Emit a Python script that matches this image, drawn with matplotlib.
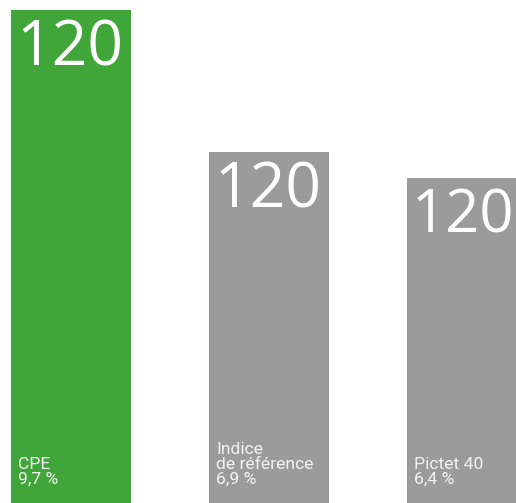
import matplotlib
matplotlib.use("Agg")
import matplotlib.pyplot as plt
from matplotlib.transforms import offset_copy, blended_transform_factory

categories = ["CPE", "Indice\nde référence", "Pictet 40"]
values = [9.7, 6.9, 6.4]
value_labels = ["9,7 %", "6,9 %", "6,4 %"]
top_labels = ["120", "120", "120"]
colors = ["#40a63a", "#9b9b9b", "#9b9b9b"]

W, H, DPI = 516, 503, 100
fig = plt.figure(figsize=(W / DPI, H / DPI), dpi=DPI)
ax = fig.add_axes([0, 0, 1, 1])

spacing = 198.0
width_px = 120.0
c0 = 71.0
ax.set_xlim(-c0 / spacing, (W - c0) / spacing)
ax.set_ylim(0, 9.7 * H / 493.0)
ax.axis("off")

x = list(range(len(categories)))
bars = ax.bar(x, values, width=width_px / spacing, color=colors, linewidth=0)

fig.canvas.draw()
renderer = fig.canvas.get_renderer()
for xi, v, cat, vl, tl in zip(x, values, categories, value_labels, top_labels):
    left = xi - width_px / spacing / 2
    tr = offset_copy(ax.transData, fig=fig, x=5, y=-55, units="dots")
    t = ax.text(left, v, tl, transform=tr, ha="left", va="baseline",
                fontsize=45, color="white", family=["Open Sans", "DejaVu Sans"])
    fs = 45
    while t.get_window_extent(renderer).x1 > W - 1 and fs > 30:
        fs -= 0.5
        t.set_fontsize(fs)
    btr = blended_transform_factory(ax.transData, ax.transAxes)
    btr = offset_copy(btr, fig=fig, x=7, y=16, units="dots")
    ax.text(left, 0, cat + "\n" + vl, transform=btr, ha="left", va="bottom",
            fontsize=12.6, color="#f2f2f2", linespacing=0.98,
            family=["Roboto", "DejaVu Sans"])

fig.savefig("out.png", dpi=DPI)
